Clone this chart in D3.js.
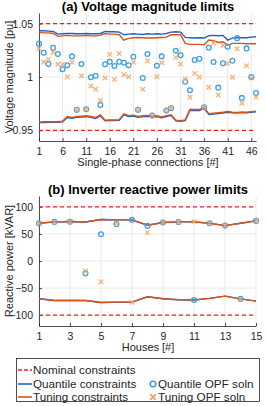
<!DOCTYPE html>
<html>
<head>
<meta charset="utf-8">
<script src="https://cdn.jsdelivr.net/npm/d3@7"></script>
<style>
body { margin: 0; background: #fff; }
svg { font-family: "Liberation Sans", Arial, sans-serif; }
</style>
</head>
<body>
<div id="chart"></div>
<script>
var width = 266;
var height = 406;

// (a) voltage magnitude, 47 single-phase connections
var vUpQuant = [1.0433,1.0433,1.0430,1.0427,1.0402,1.0405,1.0408,1.0408,1.0405,1.0405,1.0408,1.0405,1.0405,1.0408,
  1.0427,1.0424,1.0424,1.0421,1.0396,1.0402,1.0405,1.0402,1.0399,1.0405,1.0402,1.0405,1.0402,1.0408,1.0421,1.0424,1.0421,
  1.0371,1.0368,1.0365,1.0368,1.0365,1.0387,1.0390,1.0387,1.0390,1.0346,1.0364,1.0368,1.0368,1.0368,1.0374,1.0377];
var vUpTune = [1.0418,1.0414,1.0414,1.0408,1.0381,1.0386,1.0390,1.0386,1.0386,1.0386,1.0390,1.0386,1.0386,1.0393,
  1.0408,1.0402,1.0402,1.0396,1.0346,1.0362,1.0368,1.0371,1.0368,1.0365,1.0365,1.0368,1.0371,1.0374,1.0396,1.0396,1.0396,
  1.0315,1.0306,1.0306,1.0306,1.0302,1.0346,1.0340,1.0324,1.0330,1.0299,1.0315,1.0315,1.0315,1.0312,1.0312,1.0312];
var vLoTune = [0.9577,0.9580,0.9580,0.9580,0.9580,0.9585,0.9630,0.9622,0.9630,0.9633,0.9636,0.9630,0.9620,0.9645,
  0.9595,0.9597,0.9597,0.9600,0.9655,0.9638,0.9642,0.9630,0.9638,0.9640,0.9632,0.9636,0.9625,0.9638,0.9645,0.9595,0.9590,
  0.9598,0.9698,0.9695,0.9695,0.9717,0.9655,0.9660,0.9665,0.9670,0.9678,0.9670,0.9668,0.9672,0.9670,0.9675,0.9680];
var vLoQuant = [0.9572,0.9574,0.9575,0.9576,0.9576,0.9580,0.9620,0.9614,0.9622,0.9625,0.9628,0.9622,0.9612,0.9636,
  0.9590,0.9592,0.9592,0.9595,0.9646,0.9630,0.9634,0.9622,0.9630,0.9632,0.9624,0.9628,0.9618,0.9630,0.9638,0.9590,0.9585,
  0.9592,0.9688,0.9685,0.9686,0.9708,0.9648,0.9652,0.9657,0.9662,0.9670,0.9664,0.9662,0.9666,0.9664,0.9669,0.9674];
var vSolnQuant = [1.0311,1.0227,1.0121,1.0274,1.0215,1.0072,1.0109,1.0193,0.9692,1.0121,0.9698,0.9997,1.0012,0.9738,
  1.0119,1.0143,1.0103,1.0143,1.0134,1.0109,1.0190,0.9692,0.9990,1.0215,0.9638,1.0106,1.0193,0.9685,0.9707,1.0246,1.0203,
  0.9956,0.9876,1.0159,1.0171,0.9717,1.0274,1.0140,0.9900,1.0128,1.0283,1.0152,1.0364,0.9804,1.0268,1.0000,0.9850];
var vSolnTune = [1.0265,1.0140,1.0165,1.0230,1.0119,1.0119,1.0000,1.0137,0.9692,1.0012,0.9698,0.9916,0.9885,0.9779,
  0.9990,1.0212,0.9978,1.0221,1.0022,1.0003,1.0137,0.9692,0.9885,1.0152,0.9638,1.0003,1.0134,0.9685,0.9707,1.0184,1.0121,
  0.9981,0.9810,1.0034,0.9997,0.9717,0.9904,1.0318,0.9832,1.0296,1.0128,0.9997,1.0265,0.9754,1.0106,0.9990,0.9812];
var vNominal = [0.95, 1.05];
var vTicksX = [1,6,11,16,21,26,31,36,41,46];
var vTicksY = [0.95, 1, 1.05];

// (b) inverter reactive power, 15 houses
var qUpQuant = [69.8,72.2,72.8,72.0,76.5,75.9,75.9,66.0,71.0,72.2,72.2,69.8,65.4,69.8,74.0];
var qUpTune = [69.8,72.2,72.8,72.0,76.5,75.9,75.9,66.0,71.0,72.2,72.2,69.8,65.4,69.8,74.0];
var qLoQuant = [-69.8,-72.8,-72.8,-72.8,-76.5,-76.0,-76.0,-66.0,-69.8,-71.6,-72.0,-69.0,-64.8,-70.0,-74.0];
var qLoTune = [-69.8,-72.8,-72.8,-72.8,-76.5,-76.0,-76.0,-66.0,-69.8,-71.6,-72.0,-69.0,-64.8,-70.0,-74.0];
var qSolnQuant = [69.8,72.2,72.5,-22.8,49.4,68.0,75.9,64.8,71.0,72.0,-72.0,69.8,65.4,-70.0,74.0];
var qSolnTune = [69.8,72.2,72.5,-18.5,-38.3,69.0,-76.0,52.4,71.0,72.0,72.5,69.8,65.4,-70.0,74.0];
var qNominal = [-100, 100];
var qTicksX = [1,3,5,7,9,11,13,15];
var qTicksY = [-100,-50,0,50,100];

var colNom = "#ff1a1a";
var colQuant = "#2160c4";
var colTune = "#d95319";
var colQuantPt = "#3fa0e8";
var colTunePt = "#f5a362";

var svg = d3.select("#chart").append("svg")
    .attr("width", width).attr("height", height);

function panel(cfg) {
    var x = d3.scaleLinear().domain(cfg.xDomain).range([39, 256]);
    var y = d3.scaleLinear().domain(cfg.yDomain).range([cfg.bottom, cfg.top]);
    var g = svg.append("g");

    // grid
    g.selectAll(".gx").data(cfg.xTicks).enter().append("line")
        .attr("x1", function(d) { return x(d); }).attr("x2", function(d) { return x(d); })
        .attr("y1", cfg.top).attr("y2", cfg.bottom)
        .attr("stroke", "#e4e4e4").attr("stroke-width", 0.8);
    g.selectAll(".gy").data(cfg.yTicks).enter().append("line")
        .attr("x1", 39).attr("x2", 256)
        .attr("y1", function(d) { return y(d); }).attr("y2", function(d) { return y(d); })
        .attr("stroke", "#e4e4e4").attr("stroke-width", 0.8);

    // axes
    var ax = g.append("g").attr("transform", "translate(0," + cfg.bottom + ")")
        .call(d3.axisBottom(x).tickValues(cfg.xTicks).tickSize(-3).tickPadding(7).tickSizeOuter(0));
    var ay = g.append("g").attr("transform", "translate(39,0)")
        .call(d3.axisLeft(y).tickValues(cfg.yTicks).tickSize(-3).tickPadding(6).tickSizeOuter(0)
            .tickFormat(cfg.yFormat));
    [ax, ay].forEach(function(a) {
        a.selectAll("path").attr("stroke", "#262626").attr("stroke-width", 0.8);
        a.selectAll("line").attr("stroke", "#262626").attr("stroke-width", 0.8);
        a.selectAll("text").attr("fill", "#262626").style("font-size", "10.5px")
            .style("font-family", "Liberation Sans, Arial, sans-serif");
    });

    var n = cfg.upQuant.length;
    var idx = d3.range(1, n + 1);
    function lineOf(vals) {
        return d3.line().x(function(d, i) { return x(idx[i]); }).y(function(d) { return y(d); })(vals);
    }

    cfg.nominal.forEach(function(v) {
        g.append("line").attr("x1", 39).attr("x2", 256).attr("y1", y(v)).attr("y2", y(v))
            .attr("stroke", colNom).attr("stroke-width", 1.4).attr("stroke-dasharray", "4,3");
    });
    [cfg.upQuant, cfg.loQuant].forEach(function(v) {
        g.append("path").attr("d", lineOf(v)).attr("fill", "none")
            .attr("stroke", colQuant).attr("stroke-width", 1.4);
    });
    [cfg.upTune, cfg.loTune].forEach(function(v) {
        g.append("path").attr("d", lineOf(v)).attr("fill", "none")
            .attr("stroke", colTune).attr("stroke-width", 1.4);
    });

    // solutions
    g.selectAll(".q").data(cfg.solnQuant).enter().append("circle")
        .attr("cx", function(d, i) { return x(idx[i]); })
        .attr("cy", function(d) { return y(d); })
        .attr("r", 2.4).attr("fill", "none")
        .attr("stroke", colQuantPt).attr("stroke-width", 1.3);
    g.selectAll(".t").data(cfg.solnTune).enter().append("path")
        .attr("d", d3.symbol().type(d3.symbolX).size(15))
        .attr("transform", function(d, i) { return "translate(" + x(idx[i]) + "," + y(d) + ")"; })
        .attr("fill", "none").attr("stroke", colTunePt).attr("stroke-width", 1.3).attr("opacity", 0.85);

    // labels
    svg.append("text").attr("x", 148).attr("y", cfg.top - 2).attr("text-anchor", "middle")
        .style("font-size", "13px").style("font-weight", "bold").attr("fill", "#000")
        .text(cfg.title);
    svg.append("text").attr("x", 148).attr("y", cfg.bottom + 25).attr("text-anchor", "middle")
        .style("font-size", "11px").attr("fill", "#262626").text(cfg.xLabel);
    svg.append("text").attr("transform", "translate(13," + ((cfg.top + cfg.bottom) / 2) + ") rotate(-90)")
        .attr("text-anchor", "middle").style("font-size", "11px").attr("fill", "#262626").text(cfg.yLabel);
}

panel({
    xDomain: [1, 47], yDomain: [0.94, 1.06], top: 13, bottom: 141,
    xTicks: vTicksX, yTicks: vTicksY, yFormat: function(d) { return d3.format("")(d); },
    upQuant: vUpQuant, loQuant: vLoQuant, upTune: vUpTune, loTune: vLoTune,
    solnQuant: vSolnQuant, solnTune: vSolnTune, nominal: vNominal,
    title: "(a) Voltage magnitude limits", xLabel: "Single-phase connections [#]",
    yLabel: "Voltage magnitude [pu]"
});
panel({
    xDomain: [1, 15], yDomain: [-120, 120], top: 196, bottom: 326,
    xTicks: qTicksX, yTicks: qTicksY, yFormat: function(d) { return d3.format("")(d); },
    upQuant: qUpQuant, loQuant: qLoQuant, upTune: qUpTune, loTune: qLoTune,
    solnQuant: qSolnQuant, solnTune: qSolnTune, nominal: qNominal,
    title: "(b) Inverter reactive power limits", xLabel: "Houses [#]",
    yLabel: "Reactive power [kVAR]"
});

// legend
var lg = svg.append("g");
lg.append("rect").attr("x", 16.5).attr("y", 358.5).attr("width", 243).attr("height", 43)
    .attr("fill", "#fff").attr("stroke", "#262626").attr("stroke-width", 0.8);
var legLines = [
    {label: "Nominal constraints", color: colNom, dash: "4,2", y: 370},
    {label: "Quantile constraints", color: colQuant, dash: null, y: 384},
    {label: "Tuning constraints", color: colTune, dash: null, y: 397}
];
legLines.forEach(function(d) {
    lg.append("line").attr("x1", 18).attr("x2", 32).attr("y1", d.y).attr("y2", d.y)
        .attr("stroke", d.color).attr("stroke-width", 1.6).attr("stroke-dasharray", d.dash);
    lg.append("text").attr("x", 33).attr("y", d.y + 4).style("font-size", "11.7px")
        .attr("fill", "#262626").text(d.label);
});
lg.append("circle").attr("cx", 153).attr("cy", 384).attr("r", 2.8).attr("fill", "none")
    .attr("stroke", colQuantPt).attr("stroke-width", 1.6);
lg.append("text").attr("x", 158).attr("y", 388).style("font-size", "11.7px")
    .attr("fill", "#262626").text("Quantile OPF soln");
lg.append("path").attr("d", d3.symbol().type(d3.symbolX).size(22))
    .attr("transform", "translate(153,397)")
    .attr("fill", "none").attr("stroke", colTunePt).attr("stroke-width", 1.8);
lg.append("text").attr("x", 158).attr("y", 401).style("font-size", "11.7px")
    .attr("fill", "#262626").text("Tuning OPF soln");
</script>
</body>
</html>
